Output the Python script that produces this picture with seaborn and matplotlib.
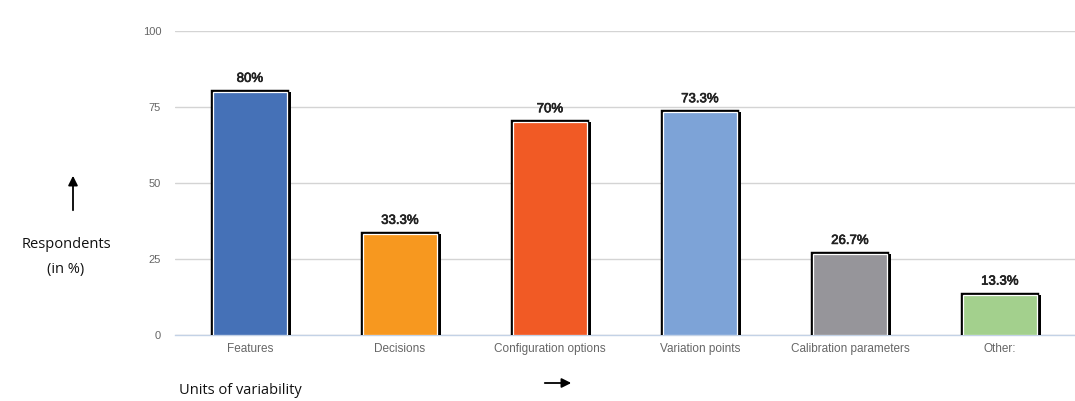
import matplotlib
matplotlib.use("Agg")
import matplotlib.pyplot as plt
import matplotlib.patheffects as pe
import seaborn as sns
import pandas as pd

categories = ["Features", "Decisions", "Configuration options",
              "Variation points", "Calibration parameters", "Other:"]
values = [80.0, 33.3, 70.0, 73.3, 26.7, 13.3]
value_labels = ["80%", "33.3%", "70%", "73.3%", "26.7%", "13.3%"]
colors = ["#4571b7", "#f7981f", "#f15a25", "#7da3d7", "#96959a", "#a3d08d"]
y_ticks = [0, 25, 50, 75, 100]

df = pd.DataFrame({"unit": categories, "pct": values})

sns.set_theme(style="white")
plt.rcParams["font.family"] = ["Liberation Sans Narrow", "Liberation Sans", "DejaVu Sans"]

fig = plt.figure(figsize=(10.75, 4.01), dpi=100)
ax = fig.add_axes([175 / 1075, 1 - 335 / 401, 900 / 1075, 304 / 401])

sns.barplot(data=df, x="unit", y="pct", hue="unit", palette=colors,
            legend=False, width=0.49, ax=ax, saturation=1,
            edgecolor="white", linewidth=0.9, zorder=3)

for patch in ax.patches:
    patch.set_path_effects([
        pe.SimplePatchShadow(offset=(3, 0), shadow_rgbFace="black", alpha=1.0),
        pe.Stroke(linewidth=3.2, foreground="black"),
        pe.Normal(),
    ])

for i, (v, lab) in enumerate(zip(values, value_labels)):
    ax.annotate(lab, (i, v), xytext=(0, 5), textcoords="offset points",
                ha="center", va="bottom", fontsize=9.5, color="#222222",
                path_effects=[pe.withStroke(linewidth=0.5, foreground="#222222")])

ax.set_ylim(0, 100)
ax.set_xlim(-0.5, len(categories) - 0.5)
ax.set_yticks(y_ticks)
ax.set_yticklabels([str(t) for t in y_ticks])
ax.grid(axis="y", color="#d4d4d4", linewidth=1.0, zorder=0)
ax.set_axisbelow(True)
ax.set_xlabel("")
ax.set_ylabel("")

for side in ["top", "right", "left"]:
    ax.spines[side].set_visible(False)
ax.spines["bottom"].set_color("#c3d2e6")
ax.spines["bottom"].set_linewidth(1.0)

ax.tick_params(axis="y", length=0, pad=10, labelsize=8, labelcolor="#666666")
ax.tick_params(axis="x", which="major", length=0, pad=6, labelsize=8.5,
               labelcolor="#666666")
ax.set_xticks([i + 0.5 for i in range(len(categories) - 1)], minor=True)
ax.tick_params(axis="x", which="minor", length=7, width=1.0, color="#c3d2e6",
               direction="out")

side_font = ["Open Sans", "DejaVu Sans"]
fig.text(66 / 1075, 1 - 245 / 401, "Respondents", ha="center", va="center",
         fontsize=10.5, family=side_font, color="#111111")
fig.text(66 / 1075, 1 - 270 / 401, "(in %)", ha="center", va="center",
         fontsize=10.5, family=side_font, color="#111111")
fig.text(240 / 1075, 1 - 390 / 401, "Units of variability", ha="center",
         va="center", fontsize=10.5, family=side_font, color="#111111")

fig.add_artist(matplotlib.patches.FancyArrowPatch(
    (73 / 1075, 1 - 213 / 401), (73 / 1075, 1 - 173 / 401),
    transform=fig.transFigure, arrowstyle="-|>", mutation_scale=14,
    color="black", linewidth=1.3))
fig.add_artist(matplotlib.patches.FancyArrowPatch(
    (542 / 1075, 1 - 383 / 401), (574 / 1075, 1 - 383 / 401),
    transform=fig.transFigure, arrowstyle="-|>", mutation_scale=14,
    color="black", linewidth=1.3))

fig.savefig("out.png", dpi=100)
